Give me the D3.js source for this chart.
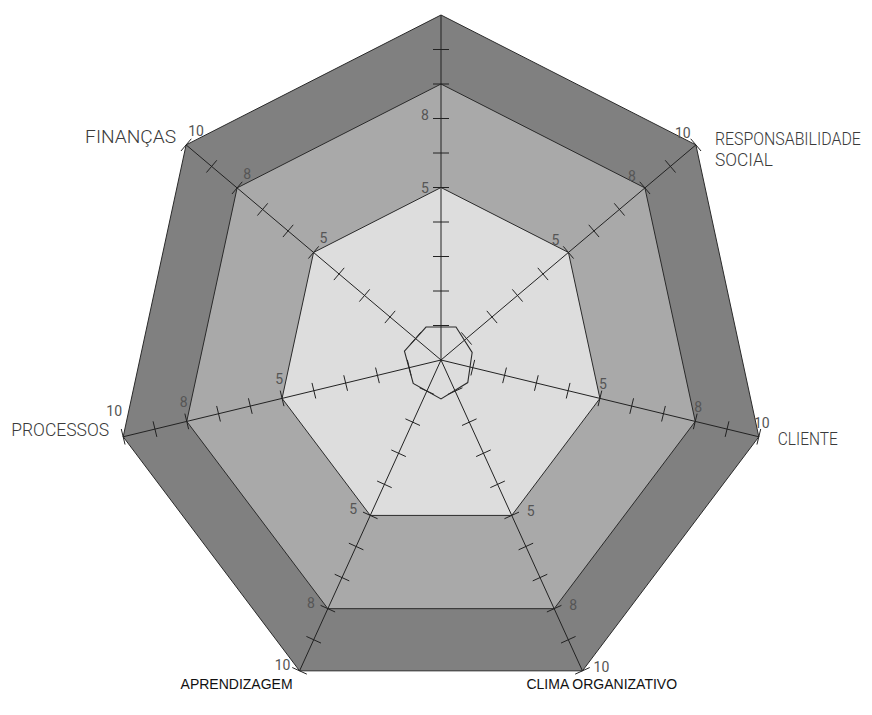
<!DOCTYPE html>
<html>
<head>
<meta charset="utf-8">
<script src="https://cdn.jsdelivr.net/npm/d3@7"></script>
<style>
  html, body { margin: 0; padding: 0; background: #ffffff; }
  svg { display: block; }
</style>
</head>
<body>
<svg id="chart" width="872" height="715"></svg>
<script>
// Axes, clockwise from the top spoke (the top spoke carries no caption on the canvas)
const categories = ["", "RESPONSABILIDADE SOCIAL", "CLIENTE", "CLIMA ORGANIZATIVO", "APRENDIZAGEM", "PROCESSOS", "FINANÇAS"];

// Filled rating bands (outer to inner) and their fills
const bandLevels = [10, 8, 5];
const bandColors = ["#808080", "#a9a9a9", "#dddddd"];

// Tick marks along each spoke and the values that are written out
const tickValues = [1, 2, 3, 4, 5, 6, 7, 8, 9, 10];
const tickLabels = [5, 8, 10];

// Current scores, plotted between the spokes
const scoreValues = [1.06, 0.98, 1.05, 1.13, 1.09, 1.15, 1.06];

// ---- layout ----
const cx = 441, cy = 360;
const rx = d3.scaleLinear().domain([0, 10]).range([0, 326]);
const ry = d3.scaleLinear().domain([0, 10]).range([0, 345]);
const n = categories.length;
const step = 2 * Math.PI / n;
const angle = i => Math.PI / 2 - i * step;               // math angle, y up
const pt = (i, v) => [cx + rx(v) * Math.cos(angle(i)), cy - ry(v) * Math.sin(angle(i))];

const svg = d3.select("#chart");
const line = d3.line().curve(d3.curveLinearClosed);

// bands
svg.append("g").selectAll("path")
  .data(bandLevels)
  .join("path")
  .attr("d", lv => line(d3.range(n).map(i => pt(i, lv))))
  .attr("fill", (d, k) => bandColors[k])
  .attr("stroke", "#2a2a2a")
  .attr("stroke-width", 1)
  .attr("stroke-linejoin", "miter");

// spokes
const axes = svg.append("g").attr("stroke", "#222").attr("stroke-width", 1).attr("fill", "none");
d3.range(n).forEach(i => {
  const [x0, y0] = pt(i, 0), [x1, y1] = pt(i, 10);
  axes.append("line").attr("x1", x0).attr("y1", y0).attr("x2", x1).attr("y2", y1);
  // perpendicular tick marks
  const dx = x1 - x0, dy = y1 - y0, len = Math.hypot(dx, dy);
  const px = -dy / len, py = dx / len, h = 8;
  axes.selectAll(null).data(i === 0 ? tickValues.slice(0, 9) : tickValues).join("line")
    .attr("x1", v => pt(i, v)[0] - px * h)
    .attr("y1", v => pt(i, v)[1] - py * h)
    .attr("x2", v => pt(i, v)[0] + px * h)
    .attr("y2", v => pt(i, v)[1] + py * h);
});

// score polygon (vertices sit midway between spokes)
const scorePt = (k, v) => {
  const a = angle(k) - step / 2;
  return [cx + rx(v) * Math.cos(a), cy - ry(v) * Math.sin(a)];
};
svg.append("path")
  .attr("d", line(scoreValues.map((v, k) => scorePt(k, v))))
  .attr("fill", "none")
  .attr("stroke", "#2a2a2a")
  .attr("stroke-width", 1.1);

// value labels beside the ticks
const numOffset = [[-16, 0], [-13, -12], [3, -14], [19, -4], [-17, -6], [-3, -19], [10, -14]];
const numNudge = { "0-8": [0, 31], "0-10": null, "5-10": [-6, -7] };
const numG = svg.append("g")
  .attr("font-family", "'Liberation Sans Narrow', Roboto, 'DejaVu Sans', sans-serif")
  .attr("font-size", 14)
  .attr("fill", "#555")
  .attr("text-anchor", "middle");
d3.range(n).forEach(i => {
  tickLabels.forEach(v => {
    const key = i + "-" + v;
    if (key in numNudge && numNudge[key] === null) return;
    const nudge = numNudge[key] || [0, 0];
    const [x, y] = pt(i, v);
    numG.append("text")
      .attr("x", x + numOffset[i][0] + nudge[0])
      .attr("y", y + numOffset[i][1] + nudge[1])
      .attr("dy", "0.36em")
      .text(v);
  });
});

// category captions
const capStyle = [
  null,
  { dx: 19, dy: 0, anchor: "start", lines: ["RESPONSABILIDADE", "SOCIAL"], len: [146, 58], big: true },
  { dx: 19, dy: 8, anchor: "start", lines: ["CLIENTE"], len: [60], big: true },
  { dx: -56, dy: 18, anchor: "start", lines: ["CLIMA ORGANIZATIVO"], big: false },
  { dx: -119, dy: 18, anchor: "start", lines: ["APRENDIZAGEM"], big: false },
  { dx: -14, dy: -1, anchor: "end", lines: ["PROCESSOS"], len: [98], big: true },
  { dx: -10, dy: -2, anchor: "end", lines: ["FINANÇAS"], len: [91], big: true }
];
const capG = svg.append("g");
capStyle.forEach((s, i) => {
  if (!s || !categories[i]) return;
  const [x, y] = pt(i, 10);
  s.lines.forEach((t, j) => {
    const txt = capG.append("text")
      .attr("x", x + s.dx)
      .attr("y", y + s.dy + j * 21)
      .attr("text-anchor", s.anchor)
      .text(t);
    if (s.big) {
      txt.attr("font-family", "'Liberation Sans Narrow', Roboto, sans-serif")
        .attr("font-size", 19)
        .attr("font-weight", 300)
        .attr("fill", "#3a3a3a")
        .attr("textLength", s.len[j])
        .attr("lengthAdjust", "spacingAndGlyphs");
    } else {
      txt.attr("font-family", "'Liberation Sans', Arial, sans-serif")
        .attr("font-size", 14)
        .attr("fill", "#111");
    }
  });
});
</script>
</body>
</html>
